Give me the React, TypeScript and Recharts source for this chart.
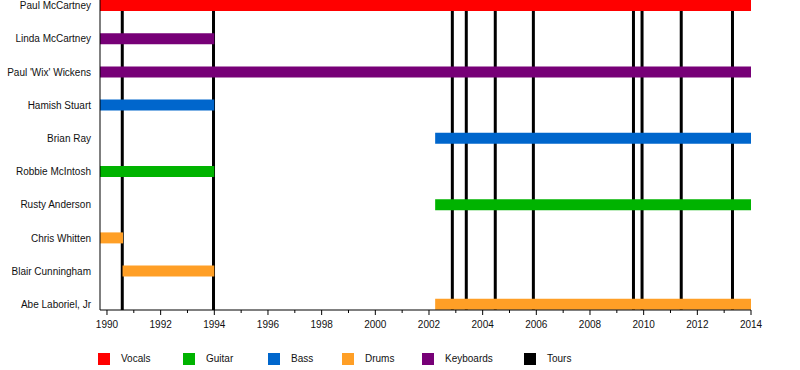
import React from 'react';
import { BarChart, Bar, XAxis, YAxis, ReferenceLine, Cell } from 'recharts';

const members = [
  'Paul McCartney',
  'Linda McCartney',
  "Paul 'Wix' Wickens",
  'Hamish Stuart',
  'Brian Ray',
  'Robbie McIntosh',
  'Rusty Anderson',
  'Chris Whitten',
  'Blair Cunningham',
  'Abe Laboriel, Jr',
];
const roles = ['Vocals', 'Keyboards', 'Keyboards', 'Bass', 'Bass', 'Guitar', 'Guitar', 'Drums', 'Drums', 'Drums'];
const starts = [1989.74, 1989.74, 1989.74, 1989.74, 2002.23, 1989.74, 2002.23, 1989.74, 1990.58, 2002.23];
const ends = [2014, 1994, 2014, 1994, 2014, 1994, 2014, 1990.6, 1994, 2014];
const tours = [1990.57, 1993.97, 2002.87, 2003.39, 2004.47, 2005.89, 2009.62, 2009.94, 2011.4, 2013.31];
const yearTicks = [1990, 1991, 1992, 1993, 1994, 1995, 1996, 1997, 1998, 1999, 2000, 2001, 2002, 2003, 2004, 2005, 2006, 2007, 2008, 2009, 2010, 2011, 2012, 2013, 2014];
const legendNames = ['Vocals', 'Guitar', 'Bass', 'Drums', 'Keyboards', 'Tours'];

const COLORS: Record<string, string> = {
  Vocals: '#ff0000',
  Guitar: '#00b300',
  Bass: '#0066cc',
  Drums: '#ff9f26',
  Keyboards: '#770077',
  Tours: '#000000',
};
const LEGEND_X = [98, 183, 268, 342, 422, 524];
const FONT = '"Liberation Sans", Arial, Helvetica, sans-serif';

const data = members.map((name, i) => ({ name, role: roles[i], range: [starts[i], ends[i]] }));

const XTick = (props: any) => {
  const { x, y, payload } = props;
  const major = payload.value % 2 === 0;
  return (
    <g>
      <line x1={x} x2={x} y1={y} y2={y + (major ? 5 : 3)} stroke="#000" strokeWidth={1} />
      {major && (
        <text x={x} y={y + 18} textAnchor="middle" fontSize={10} fill="#111" fontFamily={FONT}>
          {payload.value}
        </text>
      )}
    </g>
  );
};

const YTick = (props: any) => {
  const { x, y, payload } = props;
  return (
    <text x={x} y={y} dy="0.355em" textAnchor="end" fontSize={10} fill="#111" fontFamily={FONT}>
      {payload.value}
    </text>
  );
};

export default function App() {
  return (
    <div style={{ position: 'absolute', left: 0, top: 0, width: 800, height: 370, fontFamily: FONT, background: '#fff' }}>
      <BarChart
        width={800}
        height={370}
        data={data}
        layout="vertical"
        margin={{ top: 0, right: 49, bottom: 30, left: 0 }}
      >
        <XAxis
          type="number"
          dataKey="range"
          domain={[1989.74, 2014]}
          allowDataOverflow
          ticks={yearTicks}
          interval={0}
          tick={<XTick />}
          tickLine={false}
          tickSize={0}
          tickMargin={0}
          axisLine={{ stroke: '#000', strokeWidth: 1 }}
          height={30}
        />
        <YAxis
          type="category"
          dataKey="name"
          width={100}
          padding={{ top: -11, bottom: -11 }}
          tickLine={false}
          tickSize={0}
          tickMargin={9}
          interval={0}
          axisLine={{ stroke: '#000', strokeWidth: 1 }}
          tick={<YTick />}
        />
        {tours.map((t, i) => (
          <ReferenceLine key={i} x={t} stroke="#000" strokeWidth={3} zIndex={50} />
        ))}
        <Bar dataKey="range" barSize={11} isAnimationActive={false}>
          {data.map((d, i) => (
            <Cell key={i} fill={COLORS[d.role]} />
          ))}
        </Bar>
      </BarChart>
      {legendNames.map((n, i) => (
        <div key={n} style={{ position: 'absolute', left: LEGEND_X[i], top: 352, height: 13, display: 'flex', alignItems: 'center' }}>
          <div style={{ width: 12, height: 12, background: COLORS[n] }} />
          <span style={{ marginLeft: 11, fontSize: 10, color: '#111', lineHeight: '13px' }}>{n}</span>
        </div>
      ))}
    </div>
  );
}
